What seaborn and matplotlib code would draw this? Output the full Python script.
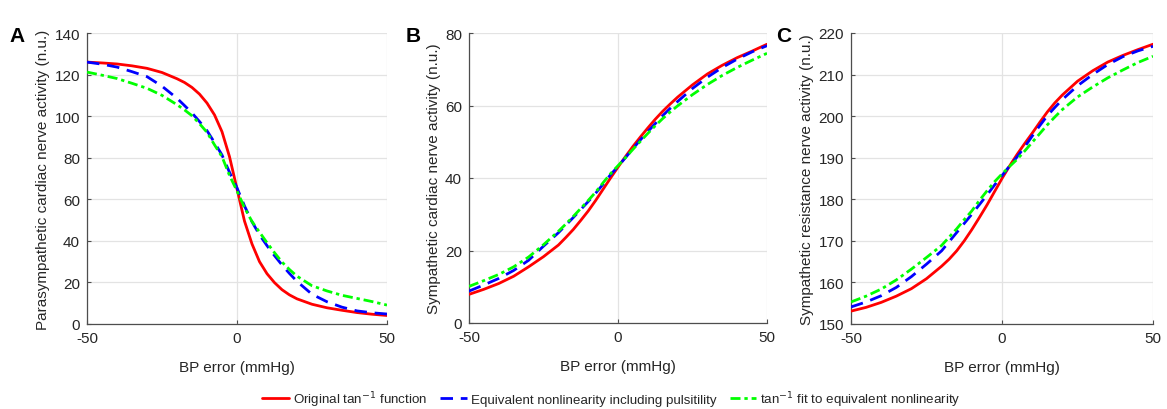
import numpy as np
import pandas as pd
import seaborn as sns
import matplotlib
matplotlib.use("Agg")
import matplotlib.pyplot as plt
from matplotlib.lines import Line2D

# ---------------- data ----------------
bp_error = [-50, -45, -40, -35, -30, -25, -20, -17.5, -15, -12.5, -10, -7.5, -5, -2.5, 0,
            2.5, 5, 7.5, 10, 12.5, 15, 17.5, 20, 25, 30, 35, 40, 45, 50]

# Panel A: parasympathetic cardiac nerve activity
para_original = [126.0, 125.6, 125.1, 124.2, 123.0, 121.0, 118.0, 116.2, 113.8, 110.6,
                 106.3, 100.6, 92.5, 80.5, 65.0, 49.5, 38.5, 30.0, 24.2, 19.9, 16.5,
                 14.0, 12.1, 9.5, 7.8, 6.6, 5.5, 4.7, 4.1]
para_equivalent = [126.0, 125.0, 123.6, 121.4, 119.0, 114.4, 108.6, 105.1, 101.5, 97.4,
                   93.0, 87.3, 81.3, 73.0, 65.5, 56.8, 49.2, 42.9, 37.7, 32.9, 28.4,
                   24.3, 20.5, 14.3, 10.7, 8.1, 6.3, 5.4, 4.8]
para_fit = [121.2, 119.7, 118.1, 115.8, 113.4, 110.0, 105.5, 103.0, 100.2, 96.4, 92.2,
            86.2, 80.5, 71.5, 64.0, 56.0, 49.3, 44.2, 39.1, 34.3, 29.8, 26.2, 23.0,
            18.4, 15.9, 13.8, 12.3, 10.8, 9.1]

# Panel B: sympathetic cardiac nerve activity
symc_original = [7.9, 9.3, 10.9, 12.9, 15.5, 18.3, 21.5, 23.6, 25.8, 28.3, 30.9, 33.8,
                 36.9, 40.0, 43.0, 45.9, 48.7, 51.3, 53.8, 56.2, 58.4, 60.4, 62.3,
                 65.7, 68.7, 71.1, 73.2, 75.0, 76.9]
symc_equivalent = [8.8, 10.5, 12.3, 14.5, 17.3, 21.2, 24.9, 27.0, 29.1, 31.3, 33.5,
                   35.8, 38.3, 40.9, 43.2, 45.6, 48.1, 50.5, 52.8, 55.0, 57.2, 59.2,
                   61.1, 64.7, 67.8, 70.5, 72.8, 74.8, 76.5]
symc_fit = [10.1, 11.7, 13.4, 15.5, 18.2, 21.6, 25.3, 27.3, 29.4, 31.6, 33.8, 36.1,
            38.7, 41.2, 43.4, 45.6, 47.9, 50.1, 52.3, 54.4, 56.4, 58.2, 59.9, 63.0,
            65.8, 68.3, 70.5, 72.5, 74.4]

# Panel C: sympathetic resistance nerve activity
symr_original = [153.1, 154.0, 155.2, 156.7, 158.5, 160.9, 163.9, 165.6, 167.6, 170.0,
                 172.7, 175.6, 178.6, 181.8, 185.0, 188.0, 190.8, 193.4, 195.9, 198.5,
                 201.0, 203.2, 205.1, 208.4, 210.9, 213.0, 214.6, 216.0, 217.3]
symr_equivalent = [154.1, 155.3, 156.8, 158.8, 161.4, 164.4, 167.6, 169.8, 172.0, 174.2,
                   176.4, 178.7, 181.0, 183.4, 185.7, 188.0, 190.2, 192.6, 195.2, 197.7,
                   200.1, 202.1, 204.0, 207.3, 210.0, 212.4, 214.3, 215.7, 216.8]
symr_fit = [155.3, 156.7, 158.4, 160.6, 163.2, 166.0, 168.9, 170.9, 172.9, 175.1, 177.2,
            179.7, 182.0, 184.2, 186.1, 187.9, 189.6, 191.6, 193.7, 195.8, 197.9,
            199.8, 201.6, 204.6, 207.0, 209.2, 211.1, 212.9, 214.4]

series_names = ["Original tan$^{-1}$ function",
                "Equivalent nonlinearity including pulsitility",
                "tan$^{-1}$ fit to equivalent nonlinearity"]
panel_letters = ["A", "B", "C"]
y_labels = ["Parasympathetic cardiac nerve activity (n.u.)",
            "Sympathetic cardiac nerve activity (n.u.)",
            "Sympathetic resistance nerve activity (n.u.)"]
x_label = "BP error (mmHg)"
y_limits = [(0, 140), (0, 80), (150, 220)]
y_ticks = [list(range(0, 141, 20)), list(range(0, 81, 20)), list(range(150, 221, 10))]
x_ticks = [-50, 0, 50]

panels = [
    (para_original, para_equivalent, para_fit),
    (symc_original, symc_equivalent, symc_fit),
    (symr_original, symr_equivalent, symr_fit),
]

# ---------------- styling ----------------
sns.set_theme(style="whitegrid")
plt.rcParams["font.family"] = ["Liberation Sans", "DejaVu Sans"]
plt.rcParams["axes.unicode_minus"] = False
text_col = "#262626"
grid_col = "#e3e3e3"

colors = ["#ff0000", "#0000ff", "#00ff00"]
dash_patterns = [None, (4.5, 2.8), (3.6, 1.4, 1.2, 1.4)]
lw = 2.0

fig = plt.figure(figsize=(11.67, 4.10), dpi=100)
W, H = 1167, 410
boxes = [(87, 387, 34, 325), (469, 767, 34, 324), (851, 1153, 34, 325)]
letter_pos = [(17, 37), (413, 37), (784, 37)]

for i, (series, box) in enumerate(zip(panels, boxes)):
    l, r, t, b = box
    ax = fig.add_axes([l / W, (H - b) / H, (r - l) / W, (b - t) / H])
    df = pd.DataFrame({"bp": bp_error})
    for j, vals in enumerate(series):
        df["v"] = vals
        sns.lineplot(data=df, x="bp", y="v", ax=ax, color=colors[j], linewidth=lw,
                     zorder=3 + j, legend=False)
        if dash_patterns[j] is not None:
            ax.lines[-1].set_dashes(dash_patterns[j])
    ax.set_xlim(-50, 50)
    ax.set_ylim(*y_limits[i])
    ax.set_xticks(x_ticks)
    ax.set_yticks(y_ticks[i])
    ax.set_facecolor("white")
    ax.grid(True, color=grid_col, linewidth=0.9)
    for s in ["top", "right"]:
        ax.spines[s].set_visible(False)
    for s in ["left", "bottom"]:
        ax.spines[s].set_color("#4d4d4d")
        ax.spines[s].set_linewidth(0.9)
    ax.tick_params(axis="both", direction="in", length=3, width=0.8, colors="#4d4d4d",
                   labelcolor=text_col, labelsize=11, pad=5,
                   left=True, bottom=True)
    ax.set_xlabel(x_label, fontsize=11, color=text_col, labelpad=11)
    ax.set_ylabel(y_labels[i], fontsize=11, color=text_col, labelpad=3)
    lx, ly = letter_pos[i]
    fig.text(lx / W, 1 - ly / H, panel_letters[i], fontsize=15, fontweight="bold",
             ha="center", va="center", color="black")

handles = []
for j in range(3):
    h = Line2D([], [], color=colors[j], linewidth=lw)
    if dash_patterns[j] is not None:
        h.set_dashes(dash_patterns[j])
    handles.append(h)
leg = fig.legend(handles=handles, labels=series_names, loc="center", ncol=3,
                 frameon=False, bbox_to_anchor=(0.524, 1 - 400 / H),
                 prop={"size": 9.6},
                 handlelength=2.0, handletextpad=0.3, columnspacing=1.0,
                 borderpad=0.1)
for txt in leg.get_texts():
    txt.set_color(text_col)

fig.savefig("out.png", dpi=100)
